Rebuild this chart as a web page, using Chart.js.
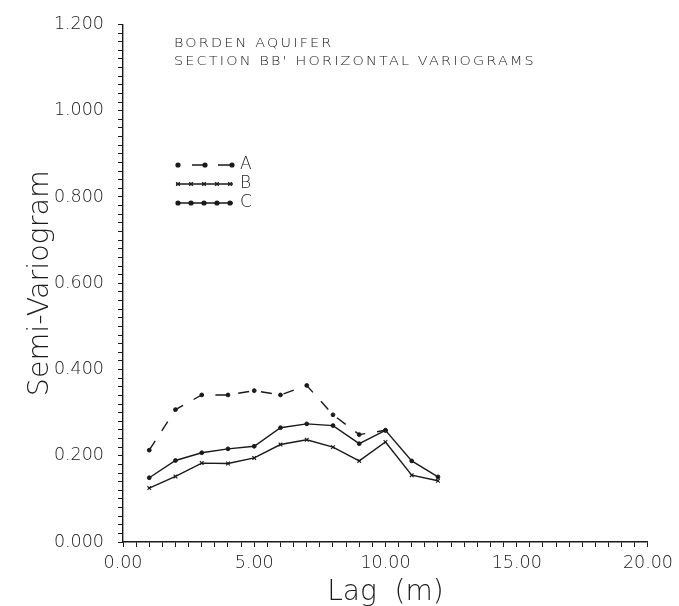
<!DOCTYPE html>
<html>
<head>
  <script src="https://cdn.jsdelivr.net/npm/chart.js"></script>
  <title>Borden Aquifer Variograms</title>
  <style>
    html, body { margin: 0; padding: 0; background: #fff; overflow: hidden; }
    canvas { display: block; }
  </style>
</head>
<body>
  <canvas id="variogramChart" width="679" height="606"></canvas>

  <script>
    // Lag distances (m) and semi-variogram values per section
    const lags = [1, 2, 3, 4, 5, 6, 7, 8, 9, 10, 11, 12];
    const seriesA = [0.213, 0.307, 0.341, 0.341, 0.351, 0.341, 0.363, 0.295, 0.249, 0.259];
    const seriesB = [0.125, 0.152, 0.183, 0.182, 0.195, 0.226, 0.237, 0.220, 0.188, 0.232, 0.155, 0.142];
    const seriesC = [0.149, 0.189, 0.207, 0.216, 0.222, 0.265, 0.274, 0.270, 0.228, 0.259, 0.188, 0.151];
    const seriesNames = ['A', 'B', 'C'];
    const titleLines = ['BORDEN AQUIFER', "SECTION BB' HORIZONTAL VARIOGRAMS"];

    const FONT = "'DejaVu Sans', sans-serif";
    const INK = '#1a1a1a';

    const toPoints = vals => vals.map((v, i) => ({ x: lags[i], y: v }));
    const near = (v, step) => Math.abs(v / step - Math.round(v / step)) < 1e-6;

    // title block and legend drawn inside the plot area
    const annotations = {
      id: 'annotations',
      afterDraw(chart) {
        const ctx = chart.ctx;
        ctx.save();
        ctx.fillStyle = INK;
        ctx.font = '200 12.5px ' + FONT;
        ctx.textBaseline = 'alphabetic';
        ctx.letterSpacing = '1.9px';
        titleLines.forEach((t, i) => {
          ctx.save();
          ctx.translate(174, 47 + i * 18);
          ctx.scale(1.15, 1);   // plotter lettering runs wide
          ctx.fillText(t, 0, 0);
          ctx.restore();
        });
        ctx.letterSpacing = '0px';

        // legend samples
        const rows = [165, 184, 203];
        chart.data.datasets.forEach((ds, i) => {
          const y = rows[i];
          ctx.strokeStyle = ds.borderColor;
          ctx.lineWidth = ds.borderWidth;
          ctx.beginPath();
          if (ds.borderDash) {
            ctx.moveTo(192, y); ctx.lineTo(206, y);
            ctx.moveTo(218, y); ctx.lineTo(233, y);
          } else {
            ctx.moveTo(176, y); ctx.lineTo(233, y);
          }
          ctx.stroke();
          const marks = ds.borderDash ? [178, 205, 232] : [178, 191, 204, 217, 230];
          marks.forEach(mx => {
            Chart.helpers.drawPoint(ctx, {
              pointStyle: ds.pointStyle, radius: ds.pointRadius,
              borderWidth: ds.pointBorderWidth || 1, rotation: 0
            }, mx, y);
          });
          ctx.fillStyle = INK;
          ctx.font = '200 17px ' + FONT;
          ctx.textBaseline = 'middle';
          ctx.fillText(ds.label, 240, y);
        });
        ctx.restore();
      }
    };

    const ctx = document.getElementById('variogramChart').getContext('2d');
    const chart = new Chart(ctx, {
      type: 'line',
      data: {
        datasets: [
          {
            label: seriesNames[0], data: toPoints(seriesA),
            borderColor: INK, backgroundColor: INK, borderWidth: 1.4,
            borderDash: [11, 12], pointStyle: 'circle', pointRadius: 1.9,
            pointBorderWidth: 1
          },
          {
            label: seriesNames[1], data: toPoints(seriesB),
            borderColor: INK, backgroundColor: INK, borderWidth: 1.4,
            pointStyle: 'crossRot', pointRadius: 2.6, pointBorderWidth: 1.1
          },
          {
            label: seriesNames[2], data: toPoints(seriesC),
            borderColor: INK, backgroundColor: INK, borderWidth: 1.4,
            pointStyle: 'circle', pointRadius: 1.9, pointBorderWidth: 1
          }
        ]
      },
      options: {
        responsive: false,
        animation: false,
        devicePixelRatio: 1,
        layout: { padding: { top: 22, right: 26, left: 0, bottom: 0 } },
        plugins: {
          legend: { display: false },
          tooltip: { enabled: false }
        },
        scales: {
          x: {
            type: 'linear', min: 0, max: 20,
            afterFit: s => { s.height = 64; },
            border: { color: INK, width: 1.4 },
            grid: { drawOnChartArea: false, color: INK, tickLength: 5, tickWidth: 1 },
            ticks: {
              count: 41, autoSkip: false, maxRotation: 0, padding: 6,
              color: INK, font: { family: FONT, size: 17.5, weight: 200 },
              callback: v => near(v, 5) ? v.toFixed(2) : ''
            },
            title: {
              display: true, text: 'Lag  (m)', color: INK,
              font: { family: FONT, size: 28, weight: 200, lineHeight: 1 },
              padding: { top: 0, bottom: -1 }
            }
          },
          y: {
            min: 0, max: 1.2,
            afterFit: s => { s.width = 123; },
            border: { color: INK, width: 1.4 },
            grid: { drawOnChartArea: false, color: INK, tickLength: 5, tickWidth: 1 },
            ticks: {
              count: 61, autoSkip: false, padding: 14,
              color: INK, font: { family: FONT, size: 17.5, weight: 200 },
              callback: v => near(v, 0.2) ? v.toFixed(3) : ''
            },
            title: {
              display: true, text: 'Semi-Variogram', color: INK,
              font: { family: FONT, size: 28.5, weight: 200, lineHeight: 1 },
              padding: { top: 26, bottom: 0 }
            }
          }
        }
      },
      plugins: [annotations]
    });
  </script>
</body>
</html>
